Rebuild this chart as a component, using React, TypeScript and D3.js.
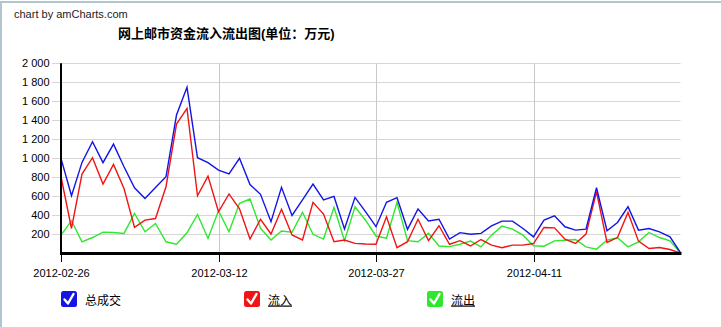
import React from "react";
import * as d3 from "d3";

const dates: string[] = (() => {
  // 60 daily points from 2012-02-26 to 2012-04-25 (dates only; labels below)
  const out: string[] = [];
  const start = new Date(2012, 1, 26);
  for (let i = 0; i < 60; i++) {
    const d = new Date(2012, 1, 26 + i);
    out.push(d3.timeFormat("%Y-%m-%d")(d));
  }
  void start;
  return out;
})();

const totalSeries = [
  1000, 607, 958, 1175, 955, 1150, 912, 691, 579, 695,
  807, 1456, 1747, 1007, 955, 877, 836, 1001, 725, 622,
  335, 696, 400, 563, 730, 563, 600, 257, 590, 440,
  282, 538, 587, 254, 468, 342, 360, 152, 219, 202,
  211, 291, 340, 340, 263, 175, 351, 397, 281, 246,
  256, 691, 239, 326, 491, 246, 263, 228, 175, 8,
];
const inflowSeries = [
  807, 263, 835, 1007, 730, 937, 684, 274, 351, 368,
  702, 1361, 1526, 607, 814, 439, 626, 470, 152, 360,
  205, 465, 195, 142, 538, 415, 124, 142, 107, 100,
  97, 387, 61, 124, 360, 135, 292, 97, 135, 79,
  147, 88, 60, 88, 88, 105, 274, 270, 151, 105,
  204, 649, 116, 168, 432, 130, 53, 63, 42, 4,
];
const outflowSeries = [
  193, 344, 123, 168, 225, 221, 211, 421, 228, 316,
  123, 98, 218, 410, 158, 449, 229, 528, 573, 265,
  142, 237, 223, 433, 202, 152, 486, 135, 492, 350,
  184, 160, 538, 135, 124, 212, 79, 72, 97, 131,
  70, 193, 288, 256, 193, 81, 77, 133, 140, 147,
  70, 46, 140, 165, 70, 123, 221, 168, 133, 4,
];

const xTickLabels = ["2012-02-26", "2012-03-12", "2012-03-27", "2012-04-11"];
const yTickValues = [200, 400, 600, 800, 1000, 1200, 1400, 1600, 1800, 2000];
const seriesNames = ["总成交", "流入", "流出"];
const seriesColors = ["#1414e6", "#f01414", "#2ee82e"];
const titleText = "网上邮市资金流入流出图(单位：万元)";
const creditText = "chart by amCharts.com";

const W = 721;
const H = 327;
const LEFT = 61;
const RIGHT = 680.5;
const TOP = 63.3;
const BOTTOM = 253.5;

const latin = "'Liberation Sans', Arial, sans-serif";
const cjk = "'Liberation Sans', 'Noto Sans CJK SC', sans-serif";

export default function App() {
  const parse = d3.timeParse("%Y-%m-%d");
  const dateObjs = dates.map((d) => parse(d) as Date);
  const x = d3
    .scaleTime()
    .domain([dateObjs[0], dateObjs[dateObjs.length - 1]])
    .range([LEFT, RIGHT]);
  const y = d3.scaleLinear().domain([0, 2000]).range([BOTTOM, TOP]);
  const fmt = (v: number) => d3.format(",")(v).replace(/,/g, " ");

  const allSeries = [totalSeries, inflowSeries, outflowSeries];
  const line = d3
    .line<number>()
    .x((_, i) => x(dateObjs[i]))
    .y((v) => y(v));

  const legendX = [61, 244, 427];

  return (
    <svg
      width={W}
      height={H}
      style={{ position: "fixed", left: 0, top: 0, background: "#fff" }}
    >
      <rect x={0} y={0} width={W} height={H} fill="#fff" />
      {/* frame */}
      <line x1={0} x2={W} y1={2} y2={2} stroke="#b2c6d2" strokeWidth={2} />
      <line x1={1} x2={1} y1={1} y2={H} stroke="#b2c6d2" strokeWidth={2} />

      <text x={14} y={18} fontFamily={latin} fontSize={11} fill="#222">
        {creditText}
      </text>
      <text
        x={118}
        y={38}
        fontFamily={cjk}
        fontSize={13}
        fontWeight="bold"
        fill="#000"
      >
        {titleText}
      </text>

      {/* horizontal grid */}
      {yTickValues.map((v) => (
        <g key={v}>
          <line
            x1={52}
            x2={RIGHT}
            y1={Math.round(y(v)) + 0.5}
            y2={Math.round(y(v)) + 0.5}
            stroke="#d6d6d6"
            strokeWidth={1}
          />
          <text
            x={49.5}
            y={y(v) + 4}
            textAnchor="end"
            fontFamily={latin}
            fontSize={11}
            fill="#000"
          >
            {fmt(v)}
          </text>
        </g>
      ))}

      {/* vertical grid + x ticks */}
      {xTickLabels.map((lbl, i) => {
        const px = Math.round(x(parse(lbl) as Date)) + 0.5;
        return (
          <g key={lbl}>
            {i > 0 && (
              <line
                x1={px}
                x2={px}
                y1={TOP}
                y2={BOTTOM}
                stroke="#c8c8c8"
                strokeWidth={1}
              />
            )}
            <line
              x1={px}
              x2={px}
              y1={BOTTOM}
              y2={262}
              stroke="#000"
              strokeWidth={1}
            />
            <text
              x={px}
              y={277}
              textAnchor="middle"
              fontFamily={latin}
              fontSize={11}
              fill="#000"
            >
              {lbl}
            </text>
          </g>
        );
      })}

      {/* series lines */}
      {[2, 1, 0].map((si) => (
        <path
          key={si}
          d={line(allSeries[si]) || ""}
          fill="none"
          stroke={seriesColors[si]}
          strokeWidth={1.4}
          strokeLinejoin="miter"
        />
      ))}

      {/* axes */}
      <line x1={LEFT} x2={LEFT} y1={TOP} y2={BOTTOM + 1.5} stroke="#000" strokeWidth={2} />
      <line x1={LEFT - 1} x2={RIGHT + 1} y1={BOTTOM} y2={BOTTOM} stroke="#000" strokeWidth={3} />

      {/* legend */}
      {seriesNames.map((name, i) => (
        <g key={name} transform={`translate(${legendX[i]},291)`}>
          <rect x={0} y={0} width={16} height={16} rx={2.5} fill={seriesColors[i]} />
          <path
            d="M3.5,8.5 L7,12.5 L12.5,3"
            fill="none"
            stroke="#fff"
            strokeWidth={2.4}
            strokeLinecap="round"
            strokeLinejoin="round"
          />
          <text
            x={24}
            y={13.5}
            fontFamily={cjk}
            fontSize={12}
            fill="#000"
            textDecoration={i > 0 ? "underline" : "none"}
          >
            {name}
          </text>
        </g>
      ))}
    </svg>
  );
}
